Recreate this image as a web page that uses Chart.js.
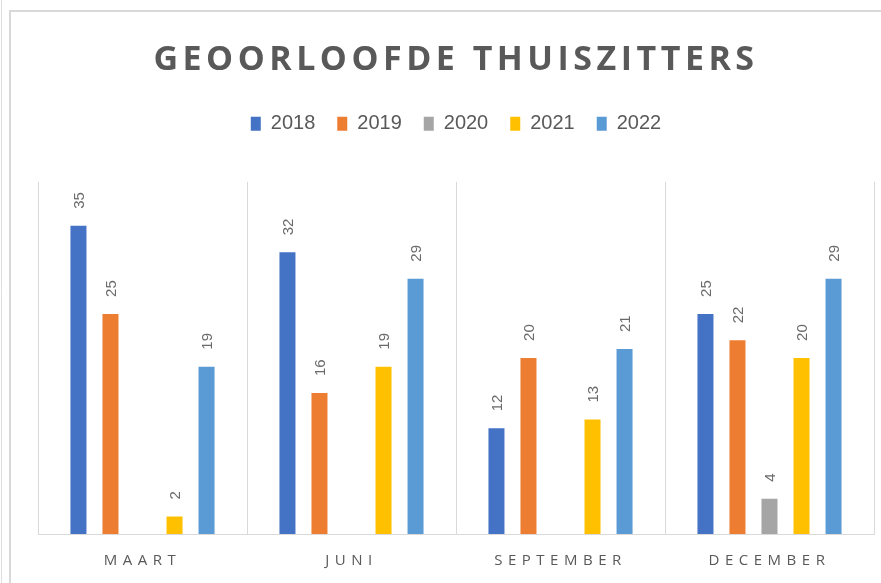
<!DOCTYPE html>
<html>
<head>
<meta charset="utf-8">
<script src="https://cdn.jsdelivr.net/npm/chart.js@4/dist/chart.umd.min.js"></script>
<style>
  html, body { margin: 0; padding: 0; background: #ffffff; }
  #wrap { width: 881px; height: 583px; position: relative; }
</style>
</head>
<body>
<div id="wrap"><canvas id="c" width="881" height="583"></canvas></div>
<script>
const chartTitle = 'GEOORLOOFDE THUISZITTERS';
const categories = ['MAART', 'JUNI', 'SEPTEMBER', 'DECEMBER'];
const seriesNames = ['2018', '2019', '2020', '2021', '2022'];
const values2018 = [35, 32, 12, 25];
const values2019 = [25, 16, 20, 22];
const values2020 = [null, null, null, 4];
const values2021 = [2, 19, 13, 20];
const values2022 = [19, 29, 21, 29];
const seriesColors = ['#4472C4', '#ED7D31', '#A5A5A5', '#FFC000', '#5B9BD5'];
const yMin = 0;
const yMax = 40;

const allValues = [values2018, values2019, values2020, values2021, values2022];

const framePlugin = {
  id: 'frame',
  beforeDraw(chart) {
    const ctx = chart.ctx;
    ctx.save();
    ctx.fillStyle = '#ffffff';
    ctx.fillRect(0, 0, chart.width, chart.height);
    ctx.strokeStyle = '#dedede';
    ctx.lineWidth = 1;
    ctx.beginPath();
    ctx.moveTo(1.5, 0); ctx.lineTo(1.5, chart.height);
    ctx.stroke();
    ctx.strokeStyle = '#d9d9d9';
    ctx.lineWidth = 2;
    ctx.beginPath();
    ctx.moveTo(10, chart.height); ctx.lineTo(10, 11); ctx.lineTo(chart.width, 11);
    ctx.stroke();
    ctx.restore();
  }
};

const spacingPlugin = {
  id: 'spacing',
  beforeLayout(chart) {
    const lg = chart.legend;
    if (lg && !lg._wrappedFit) {
      const orig = lg.fit;
      lg.fit = function () { orig.call(this); this.height += 38; };
      lg._wrappedFit = true;
    }
  },
  beforeDraw(chart) {
    const tb = chart.titleBlock;
    if (tb && !tb._wrappedDraw) {
      const orig = tb.draw;
      tb.draw = function (area) {
        const ctx = this.ctx;
        const prev = ctx.letterSpacing;
        ctx.letterSpacing = '4.5px';
        orig.call(this, area);
        ctx.letterSpacing = prev || '0px';
      };
      tb._wrappedDraw = true;
    }
    const xs = chart.scales.x;
    if (xs && !xs._wrappedLabels) {
      const origL = xs.drawLabels;
      xs.drawLabels = function (area) {
        const ctx = this.ctx;
        const prev = ctx.letterSpacing;
        ctx.letterSpacing = '5.5px';
        origL.call(this, area);
        ctx.letterSpacing = prev || '0px';
      };
      xs._wrappedLabels = true;
    }
  }
};

const valueLabelPlugin = {
  id: 'valueLabels',
  afterDatasetsDraw(chart) {
    const ctx = chart.ctx;
    ctx.save();
    ctx.font = '15px "Liberation Sans", Arial, sans-serif';
    ctx.fillStyle = '#6a6a6a';
    ctx.textAlign = 'left';
    ctx.textBaseline = 'middle';
    chart.data.datasets.forEach((ds, di) => {
      const meta = chart.getDatasetMeta(di);
      meta.data.forEach((el, i) => {
        const v = ds.data[i];
        if (v === null || v === undefined) return;
        ctx.save();
        ctx.translate(el.x + 1, el.y - 17);
        ctx.rotate(-Math.PI / 2);
        ctx.fillText(String(v), 0, 0);
        ctx.restore();
      });
    });
    ctx.restore();
  }
};

new Chart(document.getElementById('c'), {
  type: 'bar',
  data: {
    labels: categories,
    datasets: seriesNames.map((name, i) => ({
      label: name,
      data: allValues[i],
      backgroundColor: seriesColors[i],
      borderWidth: 0
    }))
  },
  options: {
    responsive: false,
    animation: false,
    devicePixelRatio: 1,
    layout: { padding: { left: 38, right: 7, top: 0, bottom: 0 } },
    datasets: { bar: { categoryPercentage: 0.766, barPercentage: 0.5 } },
    plugins: {
      title: {
        display: true,
        text: chartTitle,
        color: '#595959',
        font: { family: '"Open Sans", sans-serif', size: 34, weight: 'bold', lineHeight: 1.2 },
        padding: { top: 40, bottom: 11 }
      },
      legend: {
        display: true,
        position: 'top',
        labels: {
          boxWidth: 10,
          boxHeight: 14,
          padding: 22,
          color: '#595959',
          font: { family: '"Liberation Sans", Arial, sans-serif', size: 20 }
        }
      },
      tooltip: { enabled: false }
    },
    scales: {
      x: {
        offset: true,
        grid: { display: true, offset: true, color: '#d9d9d9', lineWidth: 1, drawTicks: false },
        border: { display: true, color: '#d9d9d9', width: 1 },
        ticks: {
          color: '#595959',
          padding: 18,
          maxRotation: 0,
          autoSkip: false,
          font: { family: '"Open Sans", sans-serif', size: 15 }
        },
        afterFit(scale) { scale.height = 49; }
      },
      y: {
        display: false,
        min: yMin,
        max: yMax
      }
    }
  },
  plugins: [framePlugin, spacingPlugin, valueLabelPlugin]
});
</script>
</body>
</html>
